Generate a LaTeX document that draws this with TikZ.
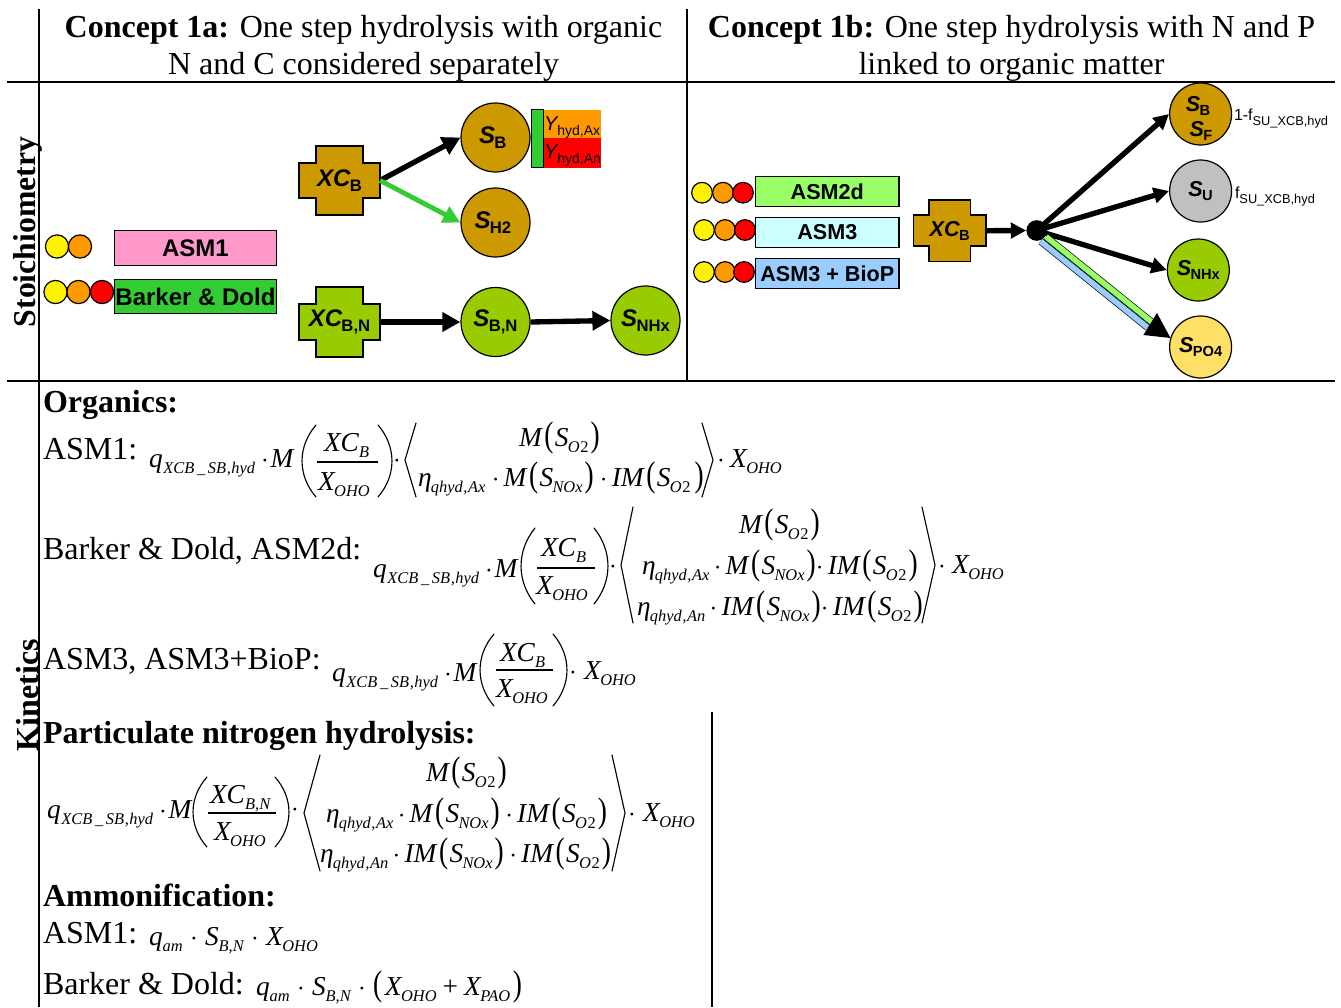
\documentclass[tikz,border=0pt]{standalone}
\usepackage{fontspec}
\usepackage{graphicx}
\setmainfont{Liberation Serif}
\newfontfamily\arf{Liberation Sans}
\usetikzlibrary{arrows.meta}
\definecolor{ochre}{HTML}{CC9900}
\definecolor{lime}{HTML}{99CC00}
\definecolor{pinkbox}{HTML}{FF99CC}
\definecolor{grnbox}{HTML}{33CC33}
\definecolor{ltgreen}{HTML}{99FF66}
\definecolor{ltcyan}{HTML}{CCFFFF}
\definecolor{ltblue}{HTML}{99CCFF}
\definecolor{sunny}{HTML}{FFE066}
\definecolor{oran}{HTML}{FF9900}
\definecolor{sgray}{HTML}{C0C0C0}
\newcounter{tcnt}
% text helpers
\newcommand\fs[1]{\fontsize{#1}{#1}\selectfont}
\newcommand\sbb[1]{\raisebox{-4.5pt}{\fs{12.3}\itshape #1}}
\newcommand\bigp[1]{\scalebox{1}[1.3]{\upshape #1}}
\newcommand\Oz{\sbb{O\kern.5pt\upshape 2}}
\newcommand\Nx{\sbb{NOx}}
\newcommand\MS[1]{\textit{M}\kern1pt\bigp{(}\kern1pt\textit{S}\kern-.5pt#1\kern1.5pt\bigp{)}}
\newcommand\IMS[1]{\textit{IM}\kern1pt\bigp{(}\kern1pt\textit{S}\kern-.5pt#1\kern1.5pt\bigp{)}}
\newcommand\cdt{\kern3.2pt$\cdot$\kern3.2pt}
\newcommand\Xo{\textit{X}\kern-1pt\sbb{OHO}}
\newcommand\qh{\textit{q}\kern.5pt\sbb{XCB\,\_\,SB\kern.5pt,\kern.3pt hyd}\kern4.5pt$\cdot$\kern1.5pt\textit{M}}
\newcommand\etaa[1]{\textit{η}\kern-.5pt\sbb{qhyd\kern.5pt,\kern.5pt #1}}
\newcommand\ssf[2]{{\arf\bfseries\fs{18}\itshape #1\kern-.5pt\raisebox{-3.5pt}{\fs{12.5}\upshape #2}}}
\newcommand\ssg[2]{{\arf\bfseries\fs{16.2}\itshape #1\kern-.5pt\raisebox{-3.2pt}{\fs{11}\upshape #2}}}
\begin{document}
\begin{tikzpicture}[x=0.75pt,y=-0.75pt,
  txt/.style={anchor=base west,inner sep=0pt,outer sep=0pt},
  frame/.style={line width=1.5pt,black},
  outl/.style={draw=black,line width=0.9pt},
  bx/.style={outl,inner sep=0pt,font=\arf\bfseries\fs{18}},
  bxr/.style={outl,inner sep=0pt,font=\arf\bfseries\fs{16.2}},
  ball/.style={outl,circle,inner sep=0pt,minimum size=#1},
  dotc/.style={ball=17.4pt},
  sp/.style={ball=51.75pt},
  spr/.style={ball=46.5pt},
  crossn/.style={inner sep=0pt,outer sep=0pt},
  arr/.style={line width=4pt,-{Triangle[length=13.5pt,width=14pt]}},
  arrs/.style={line width=4pt,-{Triangle[length=11.5pt,width=11.5pt]}},
  delim/.style={line width=0.85pt,line cap=round},
  barl/.style={line width=0.8pt}]
\useasboundingbox (0,0) rectangle (1341,1007);
\newcommand\tx[3]{\stepcounter{tcnt}\node[txt] (t\arabic{tcnt}) at (#1,#2) {#3};}
\newcommand\LP[4]{\draw[delim] (#2,#3) .. controls ({#1-(#2-#1)*.33},{#3+(#4-#3)*.3}) and ({#1-(#2-#1)*.33},{#3+(#4-#3)*.7}) .. (#2,#4);}
\newcommand\RP[4]{\draw[delim] (#1,#3) .. controls ({#2+(#2-#1)*.33},{#3+(#4-#3)*.3}) and ({#2+(#2-#1)*.33},{#3+(#4-#3)*.7}) .. (#1,#4);}
\newcommand\LA[4]{\draw[delim] (#2,#3) -- (#1,{(#3+#4)/2}) -- (#2,#4);}
\newcommand\RA[4]{\draw[delim] (#1,#3) -- (#2,{(#3+#4)/2}) -- (#1,#4);}
\newcommand\crossp[9]{\fill[#9,draw=black,line width=0.9pt] (#1,#6) -- (#2,#6) -- (#2,#5) -- (#3,#5) -- (#3,#6) -- (#4,#6) -- (#4,#7) -- (#3,#7) -- (#3,#8) -- (#2,#8) -- (#2,#7) -- (#1,#7) -- cycle;}
% ---------- headers
\node[anchor=base,inner sep=0pt,font=\fs{24}] (h1a) at (363.5,37) {\textbf{Concept 1a:} One step hydrolysis with organic};
\node[anchor=base,inner sep=0pt,font=\fs{24}] (h1b) at (363.5,74) {N and C considered separately};
\node[anchor=base,inner sep=0pt,font=\fs{24}] (h2a) at (1011.5,37) {\textbf{Concept 1b:} One step hydrolysis with N and P};
\node[anchor=base,inner sep=0pt,font=\fs{24}] (h2b) at (1011.5,74) {linked to organic matter};
% side labels
\node[rotate=90,inner sep=0pt,font=\bfseries\fs{23.8}] (stoi) at (27.5,232) {Stoichiometry};
\node[rotate=90,inner sep=0pt,font=\bfseries\fs{24}] (kin) at (28,695) {Kinetics};
% frame
\draw[frame] (7,82) -- (1335,82);
\draw[frame] (7,381) -- (1335,381);
\draw[frame] (39,9) -- (39,1007);
\draw[frame] (687,9) -- (687,381);
\draw[line width=1.2pt] (712,712) -- (712,1007);
% ---------- left panel
\node[fill=pinkbox,bx,minimum width=121.5pt,minimum height=26pt] (asm1) at (195.5,248) {ASM1};
\node[fill=grnbox,bx,minimum width=121.5pt,minimum height=26pt] (bd) at (195.5,296.5) {\raisebox{-.7pt}{Barker \& Dold}};
\node[dotc,fill=yellow] (c1) at (57,246.5) {};
\node[dotc,fill=oran] (c2) at (80,246.5) {};
\node[dotc,fill=yellow] (c3) at (55.5,292) {};
\node[dotc,fill=oran] (c4) at (78.5,292) {};
\node[dotc,fill=red] (c5) at (102,292) {};
% crosses
\crossp{299}{316}{363}{380}{146}{163}{198}{215}{ochre}
\crossp{299}{316}{363}{380}{287}{304}{340}{357}{lime}
\node[crossn,minimum width=60.75pt,minimum height=52pt] (xcb) at (339.5,180.5) {\ssf{XC}{B}};
\node[crossn,minimum width=60.75pt,minimum height=52pt] (xcbn) at (339.5,322) {\ssf{XC}{B,N}};
\node[sp,fill=ochre] (sb) at (495.5,137.5) {\kern-4pt\ssf{S}{B}};
\node[sp,fill=ochre] (sh2) at (495.5,222.5) {\kern-4pt\ssf{S}{H2}};
\node[sp,fill=lime] (sbn) at (495.5,322) {\ssf{S}{B,N}};
\node[sp,fill=lime] (snhx) at (645.5,320.5) {\ssf{S}{NHx}};
% yields
\node[inner sep=0pt,fill=oran,minimum width=43pt,minimum height=21pt,anchor=north west] (yax) at (543,110) {};
\node[inner sep=0pt,fill=red,minimum width=43pt,minimum height=22pt,anchor=north west] (yan) at (543,138) {};
\node[outl,inner sep=0pt,fill=grnbox,minimum width=9pt,minimum height=43.5pt,anchor=north west] (gbar) at (531,109) {};
\tx{544}{130}{\arf\fs{15}\itshape Y\raisebox{-4pt}{\fs{10.5}\upshape hyd,Ax}}
\tx{544}{158}{\arf\fs{15}\itshape Y\raisebox{-4pt}{\fs{10.5}\upshape hyd,An}}
% arrows
\draw[arr] (xcb.east) -- (sb.west);
\draw[line width=3.6pt,draw=grnbox,-{Triangle[length=13pt,width=13pt,fill=grnbox]}] (xcb.east) -- (sh2.west);
\draw[arr] (xcbn.east) -- (sbn.west);
\draw[arr] (sbn.east) -- (snhx.west);
% ---------- right panel
\node[fill=ltgreen,bxr,minimum width=107.5pt,minimum height=23pt,anchor=west] (asm2) at (755,191.5) {ASM2d};
\node[fill=ltcyan,bxr,minimum width=107.5pt,minimum height=23pt,anchor=west] (asm3) at (755,232.5) {\raisebox{-1pt}{ASM3}};
\node[fill=ltblue,bxr,minimum width=107.5pt,minimum height=23pt,anchor=west] (biop) at (755,273.5) {ASM3 + BioP};
\foreach \nm/\y/\a/\b/\c in {r1/192.7/702/723/743,r2/230/704/725/745,r3/272/704/725/744}{
  \node[ball=15.5pt,fill=yellow] (\nm a) at (\a,\y) {};
  \node[ball=15.5pt,fill=oran] (\nm b) at (\b,\y) {};
  \node[ball=15.5pt,fill=red] (\nm c) at (\c,\y) {};
}
\crossp{913.5}{929}{970.5}{986}{200}{215}{246}{261.5}{ochre}
\node[crossn,minimum width=54.4pt,minimum height=46pt] (xcr) at (949.7,230.7) {\ssg{XC}{B}};
\node[circle,fill=black,inner sep=0pt,minimum size=15.5pt] (hub) at (1036.7,230.5) {};
\node[spr,fill=ochre] (ssf) at (1200.6,114) {};
\node[inner sep=0pt] (ssft1) at (1198,106) {\ssg{S}{B}};
\node[inner sep=0pt] (ssft2) at (1201,131) {\ssg{S}{F}};
\node[spr,fill=sgray] (su) at (1200.6,191) {\ssg{S}{U}};
\node[spr,fill=lime] (sn) at (1198.3,270) {\ssg{S}{NHx}};
\node[spr,fill=sunny] (sp4) at (1200.6,347) {\ssg{S}{PO4}};
\tx{1234}{120}{\arf\fs{12}1-f\raisebox{-4pt}{\fs{9.6}SU\_XCB,hyd}}
\tx{1235}{198}{\arf\fs{12}f\raisebox{-4pt}{\fs{9.6}SU\_XCB,hyd}}
\draw[arrs] (xcr.east) -- (hub.west);
\coordinate (hubc) at (hub.center);
\draw[arrs] (hubc) -- (ssf.west);
\draw[arrs] (hubc) -- (su.west);
\draw[arrs] (hubc) -- (sn.west);
\coordinate (g1) at (1046,236.7); \coordinate (g2) at (1153,323);
\coordinate (b1) at (1040.6,241.3); \coordinate (b2) at (1147.6,327.6);
\draw[line width=5.2pt] (b1) -- (b2);
\draw[line width=4.2pt,ltblue] (b1) -- (b2);
\draw[line width=5.2pt] (g1) -- (g2);
\draw[line width=4.2pt,ltgreen] (g1) -- (g2);
\coordinate (hd1) at (1157,313); \coordinate (hd2) at (1143.4,335); \coordinate (hd3) at (1170.5,338);
\fill (hd1) -- (hd3) -- (hd2) -- cycle;
% ---------- kinetics text
\tx{43}{412}{\fs{24}\bfseries Organics:}
\tx{43}{459}{\fs{24}ASM1:}
\tx{43}{559}{\fs{24}Barker \& Dold, ASM2d:}
\tx{43}{669}{\fs{24}ASM3, ASM3+BioP:}
\tx{43}{743}{\fs{24}\bfseries Particulate nitrogen hydrolysis:}
\tx{43}{906}{\fs{24}\bfseries Ammonification:}
\tx{43}{943}{\fs{24}ASM1:}
\tx{43}{994}{\fs{24}Barker \& Dold:}
% --- Eq 1
\tx{149}{467}{\fs{20.5}\qh}
\LP{302}{316}{425}{497}
\tx{324}{451}{\fs{20.5}\textit{XC}\sbb{B}}
\draw[barl] (317,462) -- (378,462);
\tx{318}{490}{\fs{20.5}\Xo}
\RP{378}{392}{425}{497}
\tx{393}{467}{\fs{20.5}$\cdot$}
\LA{405}{416}{423}{497}
\tx{519}{446}{\fs{20.5}\MS{\Oz}}
\tx{418}{486}{\fs{20.5}\etaa{Ax}\kern1.5pt\cdt\MS{\Nx}\kern1.5pt\cdt\IMS{\Oz\kern1.5pt}}
\RA{702}{713}{423}{497}
\tx{717}{467}{\fs{20.5}$\cdot$}
\tx{730}{467}{\fs{20.5}\Xo}
% --- Eq 2
\tx{373}{577}{\fs{20.5}\qh}
\LP{521}{535}{528}{604}
\tx{541}{556}{\fs{20.5}\textit{XC}\sbb{B}}
\draw[barl] (537,568) -- (595,568);
\tx{536}{594}{\fs{20.5}\Xo}
\RP{594}{608}{528}{604}
\tx{609}{573}{\fs{20.5}$\cdot$}
\LA{621}{633}{507}{623}
\tx{739}{533}{\fs{20.5}\MS{\Oz}}
\tx{642}{574}{\fs{20.5}\etaa{Ax}\cdt\MS{\Nx}\kern-3pt\cdt\IMS{\Oz}}
\tx{637}{615}{\fs{20.5}\etaa{An}\cdt\IMS{\Nx}\kern-3pt\cdt\IMS{\Oz}}
\RA{922}{935}{507}{623}
\tx{938}{573}{\fs{20.5}$\cdot$}
\tx{952}{573}{\fs{20.5}\Xo}
% --- Eq 3
\tx{332}{681}{\fs{20.5}\qh}
\LP{480}{494}{634}{706}
\tx{500}{661}{\fs{20.5}\textit{XC}\sbb{B}}
\draw[barl] (496,670) -- (553,670);
\tx{496}{697}{\fs{20.5}\Xo}
\RP{553}{567}{634}{706}
\tx{569}{679}{\fs{20.5}$\cdot$}
\tx{584}{679}{\fs{20.5}\Xo}
% --- Eq 4
\tx{47}{818}{\fs{20.5}\qh}
\LP{193}{207}{777}{847}
\tx{210}{803}{\fs{20.5}\textit{XC}\sbb{B,N}}
\draw[barl] (208,813) -- (276,813);
\tx{214}{840}{\fs{20.5}\Xo}
\RP{275}{289}{777}{847}
\tx{291}{816}{\fs{20.5}$\cdot$}
\LA{304}{320}{755}{871}
\tx{426}{781}{\fs{20.5}\MS{\Oz}}
\tx{326}{822}{\fs{20.5}\etaa{Ax}\cdt\MS{\Nx}\kern1pt\cdt\IMS{\Oz}}
\tx{320}{862}{\fs{20.5}\etaa{An}\cdt\IMS{\Nx}\kern1pt\cdt\IMS{\Oz}}
\RA{612}{625}{755}{871}
\tx{628}{821}{\fs{20.5}$\cdot$}
\tx{643}{821}{\fs{20.5}\Xo}
% --- Eq 5, 6
\newcommand\dd{\kern5.5pt$\cdot$\kern5.5pt}
\tx{149}{945}{\fs{20.5}\textit{q}\sbb{am}\dd\textit{S}\sbb{B,N}\dd\Xo}
\tx{256}{995}{\fs{20.5}\textit{q}\sbb{am}\dd\textit{S}\sbb{B,N}\dd\bigp{(}\kern2pt\Xo\kern4.5pt{+}\kern4.5pt\textit{X}\kern-1pt\sbb{PAO}\kern2pt\bigp{)}}
\end{tikzpicture}
\end{document}
